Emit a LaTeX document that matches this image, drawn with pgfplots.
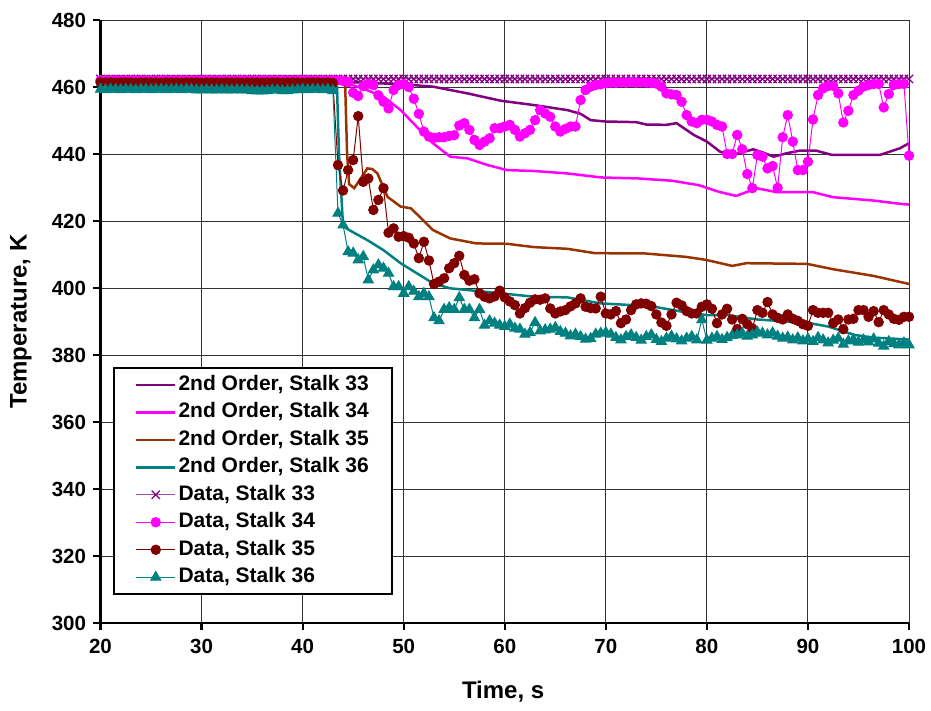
\documentclass[border=0pt]{standalone}
\usepackage{fontspec}
\setmainfont{Liberation Sans}
\usepackage{pgfplots}
\usepackage{pgfplotstable}
\pgfplotsset{compat=1.18}

\definecolor{cPurple}{HTML}{800080}
\definecolor{cMagenta}{HTML}{FF00FF}
\definecolor{cBrown}{HTML}{993300}
\definecolor{cMaroon}{HTML}{800000}
\definecolor{cTeal}{HTML}{008080}

% measured stalk temperatures, sampled every 0.5 s
\pgfplotstableread{
t     d33   d34   d35   d36
20.0 462.4 462.0 461.4 459.3
20.5 462.4 462.0 461.4 459.2
21.0 462.4 462.0 461.4 459.3
21.5 462.4 462.0 461.3 459.3
22.0 462.4 462.0 461.4 459.2
22.5 462.4 462.0 461.4 459.3
23.0 462.4 462.0 461.4 459.3
23.5 462.4 462.0 461.3 459.2
24.0 462.4 462.0 461.4 459.3
24.5 462.4 462.0 461.4 459.3
25.0 462.4 462.0 461.4 459.2
25.5 462.4 462.0 461.4 459.3
26.0 462.4 462.0 461.3 459.3
26.5 462.4 462.0 461.4 459.2
27.0 462.4 462.0 461.4 459.3
27.5 462.4 462.0 461.4 459.3
28.0 462.4 462.0 461.3 459.2
28.5 462.4 462.0 461.4 459.3
29.0 462.4 462.0 461.4 459.3
29.5 462.4 462.0 461.4 459.1
30.0 462.4 462.0 461.3 459.1
30.5 462.4 462.0 461.4 459.2
31.0 462.4 462.0 461.4 459.1
31.5 462.4 462.0 461.4 459.1
32.0 462.4 462.0 461.3 459.2
32.5 462.4 462.0 461.4 459.1
33.0 462.4 462.0 461.4 459.1
33.5 462.4 462.0 461.4 459.2
34.0 462.4 462.0 461.3 459.1
34.5 462.4 462.0 461.4 459.1
35.0 462.4 462.0 461.4 458.9
35.5 462.4 462.0 461.4 458.8
36.0 462.4 462.0 461.3 458.8
36.5 462.4 462.0 461.4 458.9
37.0 462.4 462.0 461.4 459.1
37.5 462.4 462.0 461.4 459.1
38.0 462.4 462.0 461.3 458.9
38.5 462.4 462.0 461.4 458.9
39.0 462.4 462.0 461.4 459.1
39.5 462.4 462.0 461.4 459.2
40.0 462.4 462.0 461.3 459.3
40.5 462.4 462.0 461.4 459.2
41.0 462.4 462.0 461.4 459.3
41.5 462.4 462.0 461.4 459.3
42.0 462.4 462.0 461.3 459.2
42.5 462.4 462.0 461.4 459.3
43.0 462.4 462.0 461.2 458.9
43.5 462.4 462.0 436.7 422.3
44.0 462.4 461.8 429.1 418.8
44.5 462.4 461.5 435.2 410.8
45.0 462.4 458.3 438.2 410.4
45.5 462.4 457.3 451.3 408.4
46.0 462.4 460.3 431.7 409.4
46.5 462.4 461.0 432.7 402.4
47.0 462.4 460.6 423.3 405.4
47.5 462.4 457.5 426.3 406.9
48.0 462.4 455.6 429.8 405.9
48.5 462.4 453.6 416.5 404.4
49.0 462.4 459.1 417.8 400.4
49.5 462.4 460.6 415.3 400.4
50.0 462.4 460.9 415.5 398.4
50.5 462.4 460.0 415.0 400.4
51.0 462.4 456.5 413.3 399.0
51.5 462.4 452.0 408.9 397.4
52.0 462.4 446.7 413.8 398.4
52.5 462.4 445.2 408.2 397.4
53.0 462.4 444.8 401.2 391.1
53.5 462.4 445.0 401.9 390.2
54.0 462.4 445.0 402.9 393.6
54.5 462.4 445.4 405.9 394.1
55.0 462.4 445.6 407.4 393.6
55.5 462.4 448.5 409.6 397.1
56.0 462.4 449.2 403.9 393.6
56.5 462.4 447.2 402.2 393.6
57.0 462.4 444.2 402.6 391.1
57.5 462.4 442.7 398.4 393.6
58.0 462.4 443.7 397.4 388.9
58.5 462.4 444.7 396.9 390.2
59.0 462.4 447.7 397.5 389.5
59.5 462.4 447.7 399.2 388.9
60.0 462.4 448.2 397.2 388.5
60.5 462.4 448.7 396.0 389.2
61.0 462.4 447.2 394.9 388.0
61.5 462.4 445.2 392.4 387.7
62.0 462.4 446.2 394.0 386.2
62.5 462.4 447.2 395.6 386.7
63.0 462.4 450.1 396.6 389.7
63.5 462.4 453.1 396.5 387.2
64.0 462.4 452.1 396.9 387.5
64.5 462.4 451.1 393.9 387.7
65.0 462.4 448.2 392.4 388.2
65.5 462.4 446.7 393.0 387.0
66.0 462.4 447.5 393.4 386.5
66.5 462.4 448.2 394.5 385.7
67.0 462.4 448.2 395.4 386.2
67.5 462.4 456.1 396.9 385.5
68.0 462.4 459.1 394.4 384.7
68.5 462.4 460.1 394.0 384.9
69.0 462.4 460.6 393.9 386.2
69.5 462.4 460.8 397.4 386.5
70.0 462.4 461.1 392.4 386.7
70.5 462.4 461.3 392.1 386.2
71.0 462.4 461.2 393.1 385.2
71.5 462.4 461.4 389.5 384.5
72.0 462.4 461.3 390.6 385.5
72.5 462.4 461.5 393.4 386.0
73.0 462.4 461.3 395.1 385.2
73.5 462.4 461.4 395.4 384.4
74.0 462.4 461.3 395.3 385.5
74.5 462.4 461.2 394.6 386.0
75.0 462.4 461.0 392.1 384.6
75.5 462.4 460.1 389.7 384.0
76.0 462.4 458.1 388.7 385.0
76.5 462.4 457.8 392.1 385.6
77.0 462.4 457.6 395.6 384.8
77.5 462.4 455.6 394.8 384.2
78.0 462.4 451.6 393.1 385.0
78.5 462.4 449.7 392.4 385.5
79.0 462.4 449.2 392.4 384.5
79.5 462.4 450.2 394.4 390.5
80.0 462.4 450.2 395.1 384.4
80.5 462.4 449.7 393.8 385.0
81.0 462.4 448.7 389.5 385.5
81.5 462.4 448.2 392.1 384.6
82.0 462.4 440.0 393.8 385.2
82.5 462.4 440.0 390.6 385.8
83.0 462.4 445.7 387.7 386.0
83.5 462.4 441.4 390.8 386.5
84.0 462.4 434.0 389.2 385.6
84.5 462.4 429.8 387.9 386.0
85.0 462.4 439.7 393.4 386.8
85.5 462.4 439.2 392.6 386.5
86.0 462.4 435.7 395.8 386.0
86.5 462.4 436.4 392.1 386.6
87.0 462.4 429.9 391.1 385.6
87.5 462.4 445.0 390.6 385.0
88.0 462.4 451.6 392.1 385.3
88.5 462.4 443.7 390.8 384.5
89.0 462.4 435.2 390.2 385.1
89.5 462.4 435.2 389.2 384.2
90.0 462.4 437.7 388.7 384.8
90.5 462.4 450.3 393.4 384.0
91.0 462.4 457.6 392.6 385.2
91.5 462.4 459.6 392.6 384.5
92.0 462.4 460.3 392.6 383.6
92.5 462.4 460.3 389.5 384.4
93.0 462.4 458.1 390.6 385.0
93.5 462.4 449.4 387.7 383.2
94.0 462.4 452.9 390.6 384.2
94.5 462.4 457.6 390.8 384.6
95.0 462.4 458.9 393.4 383.8
95.5 462.4 460.1 393.4 384.5
96.0 462.4 460.6 391.4 383.9
96.5 462.4 460.9 393.1 384.8
97.0 462.4 460.9 389.8 383.5
97.5 462.4 453.9 393.4 382.6
98.0 462.4 457.9 392.1 384.0
98.5 462.4 460.6 390.8 383.4
99.0 462.4 460.9 390.5 383.0
99.5 462.4 460.9 391.4 383.6
100.0 462.4 439.5 391.4 383.0
}\measured

% second-order model, stalk 33
\pgfplotstableread{
t T
20 461.6
43 461.6
46 461.3
50 460.8
52.9 460.1
56.3 458.1
59.6 455.9
62.9 454.6
66.2 453.1
67.5 452.0
68.5 450.1
70 449.7
73 449.5
74 448.8
76 448.7
77 449.2
78.7 445.7
80 443.7
81.3 440.7
82.3 439.7
83.5 440.5
84.6 441.4
85.5 440.5
86.6 439.2
88 440.3
89.2 441.0
90.8 441.0
92.4 439.7
97.1 439.7
99.1 441.7
100 443.2
}\modelA

% second-order model, stalk 34
\pgfplotstableread{
t T
20 461.6
44 461.6
44.4 461.1
46 459.5
48 457.1
49.7 453.1
51.3 448.1
52.9 443.2
54.6 439.2
56.3 438.7
58.3 436.7
60.2 435.2
63 434.9
66.2 434.2
69.5 433.0
73.2 432.7
76.6 432.0
79.2 430.7
81.2 428.7
82.9 427.5
83.9 428.6
84.9 429.8
86.9 428.6
90.5 428.6
92.5 427.1
96.5 426.1
99.2 425.1
100 424.9
}\modelB

% second-order model, stalk 35
\pgfplotstableread{
t T
20 461.6
44.2 461.6
44.4 440.0
44.6 431.0
45.1 429.8
45.6 432.0
46.4 435.7
46.9 435.5
47.4 434.2
48.4 427.2
49.7 424.3
50.7 423.8
51.5 421.5
52.9 417.3
54.6 414.8
57.2 413.3
60.2 413.2
62.9 412.2
66.2 411.7
68.9 410.4
73.9 410.3
77.9 409.3
79.9 408.4
82.5 406.6
83.9 407.4
89.9 407.2
92.5 405.6
96.5 403.6
100 401.2
}\modelC

% second-order model, stalk 36
\pgfplotstableread{
t T
20 460.0
43.4 460.0
43.6 440.0
44.0 418.5
44.6 417.3
46.4 414.3
48 411.3
49.7 407.4
51.3 404.4
52.9 401.4
54.6 399.9
56.3 399.4
59.6 398.4
62.9 397.4
66.2 397.2
69.5 395.4
74.4 394.6
77.6 392.9
80 391.9
82 391.9
85 390.6
90 389.6
92 388.5
94.6 386.0
96.4 385.2
100 384.6
}\modelD

\begin{document}
\begin{tikzpicture}
\begin{axis}[
  name=ax, at={(0,0)}, anchor=south west,
  scale only axis, width=808.5pt, height=603pt,
  xmin=20, xmax=100, ymin=300, ymax=480,
  xtick={20,30,...,100}, ytick={300,320,...,480},
  axis x line*=bottom, axis y line*=left,
  axis line style={-, line width=2.2pt, black},
  grid=major, major grid style={black!80, line width=0.9pt},
  tick align=outside, major tick length=7pt,
  major tick style={black, line width=2.2pt},
  ticklabel style={font=\fontsize{20.5}{24}\selectfont\bfseries},
  xticklabel style={yshift=-6pt},
  yticklabel style={xshift=-4pt},
  /pgf/number format/assume math mode=true,
  xlabel={Time, s}, ylabel={Temperature, K},
  every axis x label/.style={at={(axis description cs:0.498,-0.1144)}, anchor=center,
    font=\fontsize{24}{28}\selectfont\bfseries},
  every axis y label/.style={at={(axis description cs:-0.0985,0.5)}, rotate=90, anchor=center,
    font=\fontsize{24}{28}\selectfont\bfseries},
  clip=false,
  legend image code/.code={\draw[mark repeat=2,mark phase=2,#1]
    plot coordinates {(0pt,0pt) (19.5pt,0pt) (39pt,0pt)};},
  legend cell align=left,
  legend style={at={(axis description cs:0.0155,0.4245)}, anchor=north west,
    draw=black, line width=2pt, fill=white,
    font=\fontsize{21}{24}\selectfont\bfseries,
    inner xsep=21pt, inner ysep=3pt,
    nodes={inner xsep=2pt, inner ysep=4.5pt, text height=14.5pt, text depth=4pt},
  },
]
\addplot[cPurple, line width=2.5pt] table[x=t,y=T] {\modelA};
\addlegendentry{2nd Order, Stalk 33}
\addplot[cMagenta, line width=2.5pt] table[x=t,y=T] {\modelB};
\addlegendentry{2nd Order, Stalk 34}
\addplot[cBrown, line width=2.5pt] table[x=t,y=T] {\modelC};
\addlegendentry{2nd Order, Stalk 35}
\addplot[cTeal, line width=2.5pt] table[x=t,y=T] {\modelD};
\addlegendentry{2nd Order, Stalk 36}

\addplot[cPurple!70, line width=1pt, mark=x, mark size=5.8pt,
  mark options={cPurple, line width=1.3pt}] table[x=t,y=d33] {\measured};
\addlegendentry{Data, Stalk 33}
\addplot[cMagenta, line width=1pt, mark=*, mark size=4.7pt,
  mark options={cMagenta}] table[x=t,y=d34] {\measured};
\addlegendentry{Data, Stalk 34}
\addplot[cMaroon, line width=1pt, mark=*, mark size=4.7pt,
  mark options={cMaroon}] table[x=t,y=d35] {\measured};
\addlegendentry{Data, Stalk 35}
\addplot[cTeal, line width=1pt, mark=triangle*, mark size=5.8pt,
  mark options={cTeal}] table[x=t,y=d36] {\measured};
\addlegendentry{Data, Stalk 36}
\end{axis}
\pgfresetboundingbox
\path[use as bounding box] ([xshift=-100.5pt,yshift=-88pt]ax.south west)
  rectangle ([xshift=22pt,yshift=20pt]ax.north east);
\end{tikzpicture}
\end{document}
